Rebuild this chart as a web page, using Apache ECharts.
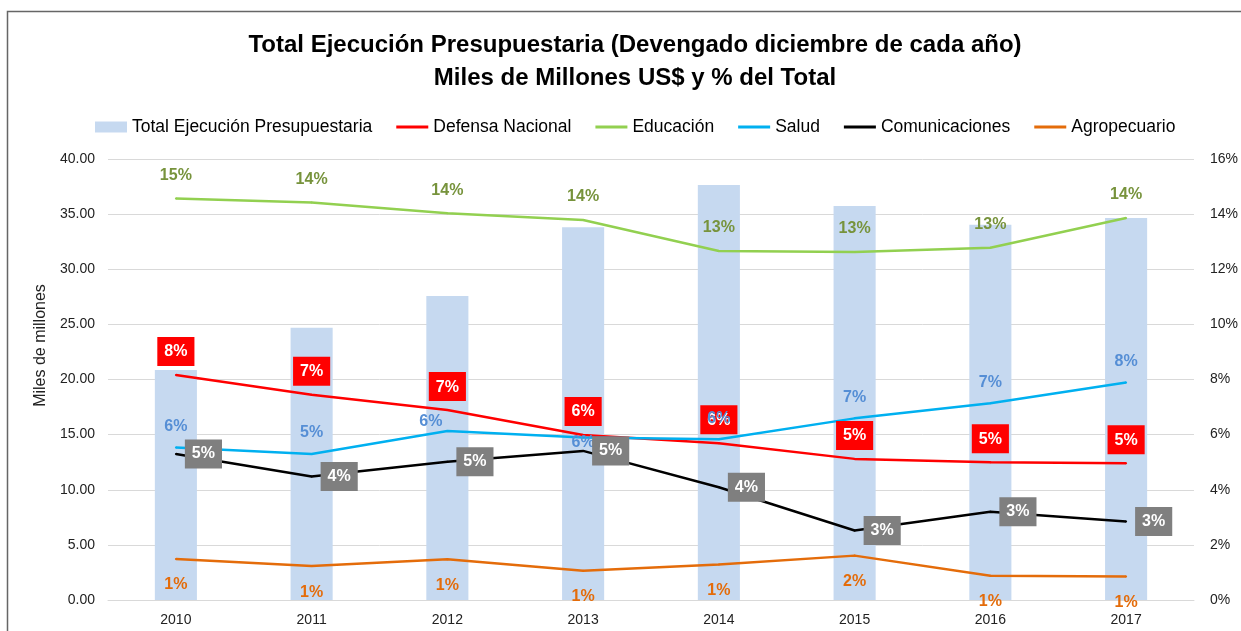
<!DOCTYPE html>
<html>
<head>
<meta charset="utf-8">
<script src="https://cdn.jsdelivr.net/npm/echarts@6/dist/echarts.min.js"></script>
<style>
  html, body { margin: 0; padding: 0; background: #fff; }
  #chart { width: 1241px; height: 631px; }
</style>
</head>
<body>
<div id="chart"></div>
<script>
// datos
const years = ["2010", "2011", "2012", "2013", "2014", "2015", "2016", "2017"];
const totalEjecucion = [20.86, 24.7, 27.57, 33.8, 37.64, 35.74, 34.04, 34.65];
const defensa = [8.16, 7.45, 6.89, 5.99, 5.69, 5.12, 5.0, 4.96];
const educacion = [14.57, 14.42, 14.03, 13.79, 12.66, 12.63, 12.78, 13.86];
const salud = [5.53, 5.3, 6.13, 5.9, 5.83, 6.59, 7.14, 7.89];
const comunicaciones = [5.3, 4.48, 5.02, 5.41, 4.09, 2.52, 3.2, 2.85];
const agropecuario = [1.49, 1.23, 1.48, 1.06, 1.29, 1.61, 0.88, 0.85];
const leftTicks = [0, 40, 5];
const rightTicks = [0, 16, 2];

const FONT = "Liberation Sans";
const pct = p => Math.round(p.value) + "%";
const lineIcon = "path://M0,0 H32 V3 H0 Z";

function lineSerie(name, data, color, label) {
  return {
    name: name,
    type: "line",
    yAxisIndex: 1,
    data: data,
    symbol: "circle",
    symbolSize: 2,
    smooth: false,
    lineStyle: { color: color, width: 2.5 },
    itemStyle: { color: color },
    label: Object.assign({ show: true, formatter: pct, fontFamily: FONT, fontWeight: "bold", fontSize: 16 }, label),
    z: 3
  };
}

const chart = echarts.init(document.getElementById("chart"));
const saludSerie = lineSerie("Salud", salud, "#00B0F0", {
  position: "top", distance: 12, color: "#558ED5"
});
// etiquetas de 2012 y 2013 movidas como en el original
saludSerie.data = salud.map((v, i) => {
  if (i === 2) return { value: v, label: { position: "left", distance: 4, offset: [0, -9] } };
  if (i === 3) return { value: v, label: { position: "bottom", distance: -4 } };
  return v;
});

chart.setOption({
  animation: false,
  textStyle: { fontFamily: FONT },
  title: {
    text: "Total Ejecución Presupuestaria (Devengado diciembre de cada año)\nMiles de Millones US$ y % del Total",
    left: 630,
    textAlign: "center",
    top: 24,
    textStyle: { fontFamily: FONT, fontWeight: "bold", fontSize: 24, lineHeight: 33, color: "#000" }
  },
  graphic: [{
    type: "rect",
    shape: { x: 7.5, y: 11.5, width: 1250, height: 640 },
    style: { fill: "none", stroke: "#666", lineWidth: 1.5 },
    silent: true
  }],
  legend: {
    top: 113,
    left: 90,
    itemGap: 24,
    itemWidth: 32,
    itemHeight: 11,
    textStyle: { fontFamily: FONT, fontSize: 17.5, color: "#000" },
    data: [
      { name: "Total Ejecución Presupuestaria", icon: "rect" },
      { name: "Defensa Nacional", icon: lineIcon },
      { name: "Educación", icon: lineIcon },
      { name: "Salud", icon: lineIcon },
      { name: "Comunicaciones", icon: lineIcon },
      { name: "Agropecuario", icon: lineIcon }
    ]
  },
  grid: { left: 108, right: 41, top: 159, bottom: 31 },
  xAxis: {
    type: "category",
    data: years,
    axisLine: { lineStyle: { color: "#D9D9D9", width: 1 } },
    axisTick: { show: false },
    axisLabel: { color: "#222", fontSize: 14, margin: 13 }
  },
  yAxis: [{
    type: "value",
    min: leftTicks[0], max: leftTicks[1], interval: leftTicks[2],
    name: "Miles de millones",
    nameLocation: "middle",
    nameGap: 58,
    nameTextStyle: { color: "#222", fontSize: 16, padding: [0, 0, 0, 68] },
    axisLine: { show: false },
    axisTick: { show: false },
    axisLabel: { color: "#222", fontSize: 14, margin: 13, formatter: v => v.toFixed(2) },
    splitLine: { lineStyle: { color: "#D9D9D9", width: 1 } }
  }, {
    type: "value",
    min: rightTicks[0], max: rightTicks[1], interval: rightTicks[2],
    axisLine: { show: false },
    axisTick: { show: false },
    axisLabel: { color: "#222", fontSize: 14, margin: 16, formatter: "{value}%" },
    splitLine: { show: false }
  }],
  series: [
    {
      name: "Total Ejecución Presupuestaria",
      type: "bar",
      data: totalEjecucion,
      barWidth: "31%",
      itemStyle: { color: "#C6D9F0" },
      z: 1
    },
    lineSerie("Defensa Nacional", defensa, "#FF0000", {
      position: "top", distance: 8, color: "#fff",
      backgroundColor: "#FF0000", padding: [7, 7, 6, 7]
    }),
    lineSerie("Educación", educacion, "#92D050", {
      position: "top", distance: 14, color: "#77933C"
    }),
    saludSerie,
    lineSerie("Comunicaciones", comunicaciones, "#000000", {
      position: "right", distance: 8, color: "#fff",
      backgroundColor: "#7F7F7F", padding: [7, 7, 6, 7]
    }),
    lineSerie("Agropecuario", agropecuario, "#E46C0A", {
      position: "bottom", distance: 17, color: "#E46C0A"
    })
  ]
});
</script>
</body>
</html>
